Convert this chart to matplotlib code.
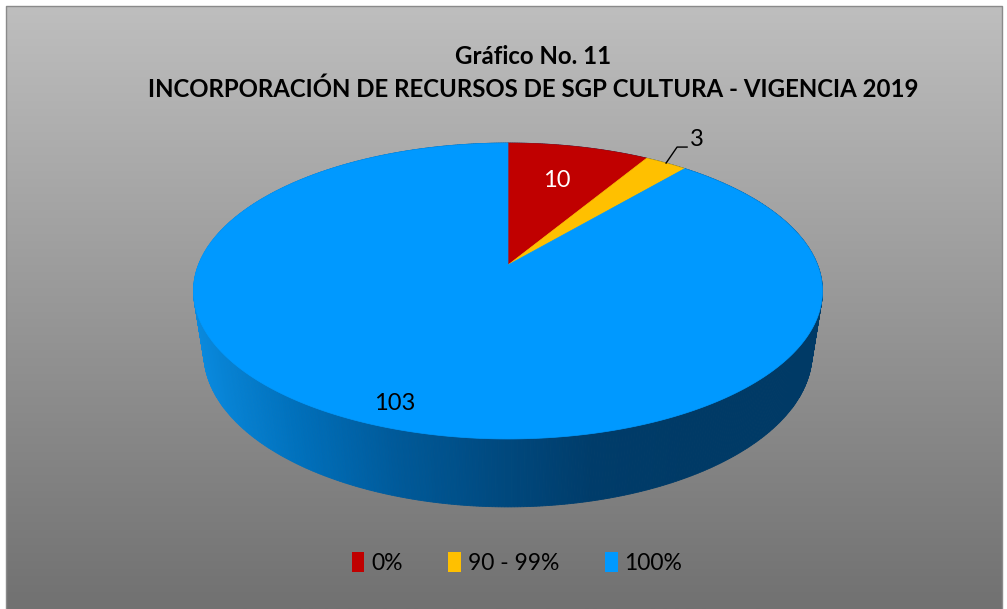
import numpy as np
import matplotlib
matplotlib.use("Agg")
import matplotlib.pyplot as plt
from matplotlib.patches import Polygon, Patch
from matplotlib.colors import LinearSegmentedColormap

# datos del gráfico
categorias = ['0%', '90 - 99%', '100%']
valores = [10, 3, 103]
colores = ['#C00000', '#FFC000', '#0099FF']
titulo = 'Gráfico No. 11\nINCORPORACIÓN DE RECURSOS DE SGP CULTURA - VIGENCIA 2019'

W, H = 1007, 609
plt.rcParams['font.family'] = ['Lato', 'DejaVu Sans']

fig = plt.figure(figsize=(W / 100, H / 100), dpi=100)
ax = fig.add_axes([0, 0, 1, 1])
ax.set_xlim(0, W)
ax.set_ylim(H, 0)
ax.axis('off')

# fondo gris degradado
grad = np.linspace(0, 1, 256).reshape(-1, 1)
fondo = LinearSegmentedColormap.from_list('fondo', ['#BEBEBE', '#717171'])
ax.imshow(grad, cmap=fondo, extent=[6, 1002, H, 6], aspect='auto', zorder=0)
ax.plot([6, 6, 1002, 1002], [H, 6, 6, H], color='#8A8A8A', lw=1, zorder=0.5)

# proyección en perspectiva del pastel 3D
CX, CY = 508, 265
A, B, K = 309.6, 143.4, 0.1756
M, C = 0.033, 64


def proj(t, z=0.0, r=1.0):
    x = r * np.cos(t)
    y = r * np.sin(t)
    w = 1 + K * y + M * z
    return CX + A * x / w, CY + (-B * y + C * z) / w


# pared lateral (solo se ve la parte azul del frente)
pared = LinearSegmentedColormap.from_list(
    'pared', ['#0A8ADE', '#0070BC', '#005A9A', '#004A80', '#003C6A', '#003A66'])
ts = np.linspace(0, 2 * np.pi, 721)
for t0, t1 in zip(ts[:-1], ts[1:]):
    u0, v0 = proj(t0)
    u1, v1 = proj(t1)
    u2, v2 = proj(t1, 1)
    u3, v3 = proj(t0, 1)
    frac = ((u0 + u1) / 2 - 193) / (822 - 193)
    col = pared(np.clip(frac * 1.25, 0, 1))
    ax.add_patch(Polygon([(u0, v0), (u1, v1), (u2, v2), (u3, v3)],
                         closed=True, fc=col, ec=col, lw=0.6, zorder=1))

# cara superior
total = sum(valores)
ini = np.pi / 2
angulos = []
for val, col in zip(valores, colores):
    fin = ini - 2 * np.pi * val / total
    tt = np.linspace(ini, fin, max(int(abs(fin - ini) * 120), 4))
    pts = [(CX, CY)] + [proj(t) for t in tt]
    ax.add_patch(Polygon(pts, closed=True, fc=col, ec=col, lw=0.5, zorder=2))
    angulos.append((ini + fin) / 2)
    ini = fin

# etiquetas
u, v = proj(angulos[0], r=0.68)
ax.text(u - 2, v, str(valores[0]), color='white', fontsize=17, ha='center', va='center', zorder=3)
u, v = proj(angulos[2], r=0.88)
ax.text(u - 3, v, str(valores[2]), color='black', fontsize=17, ha='center', va='center', zorder=3)
u, v = proj(angulos[1])
ax.plot([u, u + 11, u + 21], [v, v - 16, v - 16], color='black', lw=1, zorder=3)
ax.text(u + 24, v - 24, str(valores[1]), color='black', fontsize=17, ha='left', va='center', zorder=3)

# título
ax.text(533, 73, titulo, ha='center', va='center', fontsize=17.3, fontweight='bold',
        linespacing=1.53, color='black')

# leyenda
handles = [Patch(fc=c, ec='none') for c in colores]
ax.legend(handles, categorias, loc='center', bbox_to_anchor=(517 / W, 1 - 563 / H),
          ncol=3, frameon=False, fontsize=16.5, handlelength=0.55, handleheight=0.95,
          handletextpad=0.3, columnspacing=2.0)

fig.savefig('out.png', dpi=100)
